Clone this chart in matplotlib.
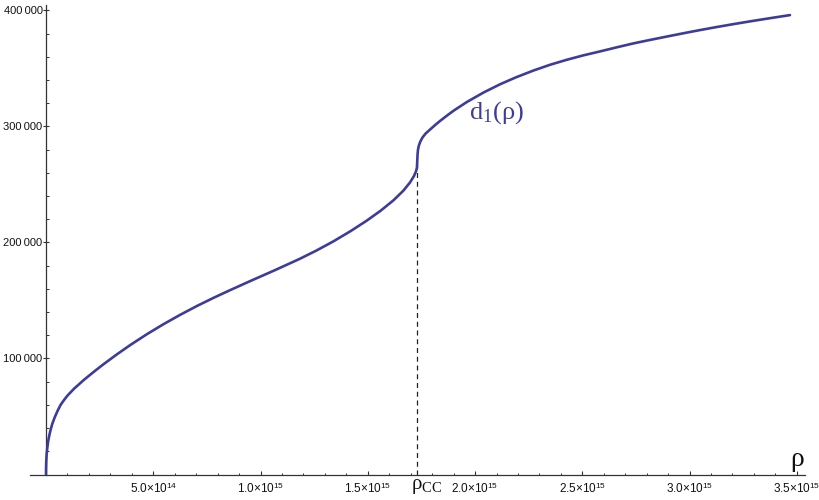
import numpy as np
import matplotlib
matplotlib.use("Agg")
import matplotlib.pyplot as plt
from matplotlib.ticker import FixedLocator

plt.rcParams['mathtext.fontset'] = 'custom'
plt.rcParams['mathtext.rm'] = 'Liberation Serif'
plt.rcParams['mathtext.sf'] = 'Liberation Sans'
plt.rcParams['mathtext.it'] = 'Liberation Serif:italic'

# ---- data (rho in units of 1e15) ----
rho_1e15 = [0, 0.0002, 0.001, 0.003, 0.006, 0.01, 0.014, 0.02, 0.029, 0.04,
            0.053, 0.068, 0.084, 0.1, 0.131, 0.177, 0.224, 0.267, 0.33, 0.392,
            0.47, 0.547, 0.625, 0.703, 0.78, 0.858, 0.96, 1.068, 1.184, 1.26,
            1.339, 1.42, 1.495, 1.56, 1.62, 1.666, 1.697, 1.715, 1.725, 1.729,
            1.73, 1.731, 1.732, 1.734, 1.738, 1.745, 1.755, 1.77, 1.79, 1.81,
            1.837, 1.87, 1.9, 1.961, 2.04, 2.117, 2.19, 2.272, 2.35, 2.428,
            2.505, 2.583, 2.66, 2.738, 2.816, 2.894, 2.97, 3.049, 3.126, 3.204,
            3.282, 3.36, 3.468]
d1_values = [0, 5000, 10500, 17500, 23000, 28500, 32500, 37500, 43500, 49000,
             54500, 60000, 64200, 68000, 74000, 81600, 88700, 94900, 103500, 111500,
             120900, 129500, 137600, 145200, 152200, 158900, 167400, 176200, 186000, 193000,
             200900, 209800, 218800, 227400, 236400, 244700, 251800, 257200, 261400, 264600,
             268000, 272000, 276000, 280000, 283500, 287000, 290500, 294000, 297300, 300600,
             304800, 309500, 313600, 321000, 329300, 336400, 342300, 348200, 353200, 357500,
             361300, 364700, 368200, 371600, 374600, 377500, 380300, 383100, 385700, 388200,
             390600, 392900, 396000]
rho_cc_1e15 = 1.731
d1_at_cc = 270000

x_major = [0.5, 1.0, 1.5, 2.0, 2.5, 3.0, 3.5]
x_major_labels = ['5.0×10$^{\\mathsf{14}}$', '1.0×10$^{\\mathsf{15}}$', '1.5×10$^{\\mathsf{15}}$',
                  '2.0×10$^{\\mathsf{15}}$', '2.5×10$^{\\mathsf{15}}$', '3.0×10$^{\\mathsf{15}}$',
                  '3.5×10$^{\\mathsf{15}}$']
y_major = [100000, 200000, 300000, 400000]
y_major_labels = ['100\u2009000', '200\u2009000', '300\u2009000', '400\u2009000']

rho = np.array(rho_1e15) * 1e15
d1 = np.array(d1_values)

line_color = '#3d3d99'
axis_color = '#333333'

fig = plt.figure(figsize=(8.2, 5.0), dpi=100)
ax = fig.add_axes([30/820, (500-474.5)/500, 775/820, (474.5-5)/500])

ax.plot(rho, d1, color=line_color, lw=1.9, solid_joinstyle='round',
        solid_capstyle='round', zorder=3)
ax.plot([rho_cc_1e15*1e15, rho_cc_1e15*1e15], [0, d1_at_cc], color='#222222',
        lw=0.9, ls=(0, (4, 3)), zorder=2)

ax.set_xlim(-0.0746e15, 3.538e15)
ax.set_ylim(0, 404700)

for s in ['top', 'right']:
    ax.spines[s].set_visible(False)
ax.spines['left'].set_position(('data', 0))
ax.spines['bottom'].set_position(('data', 0))
for s in ['left', 'bottom']:
    ax.spines[s].set_color(axis_color)
    ax.spines[s].set_linewidth(0.9)

ax.xaxis.set_major_locator(FixedLocator([v*1e15 for v in x_major]))
ax.set_xticklabels(x_major_labels)
ax.xaxis.set_minor_locator(FixedLocator([k*0.1e15 for k in range(1, 36) if k % 5 != 0]))
ax.yaxis.set_major_locator(FixedLocator(y_major))
ax.set_yticklabels(y_major_labels)
ax.yaxis.set_minor_locator(FixedLocator([k*20000 for k in range(1, 21) if k % 5 != 0]))

ax.tick_params(axis='x', which='major', direction='in', length=3, width=0.8,
               color=axis_color, pad=5, labelsize=8.5)
ax.tick_params(axis='x', which='minor', direction='in', length=1.8, width=0.7, color=axis_color)
ax.tick_params(axis='y', which='major', direction='inout', length=4, width=0.8,
               color=axis_color, pad=0.5, labelsize=8)
ax.tick_params(axis='y', which='minor', direction='in', length=2, width=0.7, color=axis_color)
for lab in ax.get_xticklabels() + ax.get_yticklabels():
    lab.set_family(['Liberation Sans', 'DejaVu Sans'])
    lab.set_color('#111111')

ax.text(2.098e15, 311600, 'd$_{\\mathrm{1}}$(ρ)', family=['Liberation Serif', 'DejaVu Serif'],
        fontsize=19, color=line_color, ha='center', va='center')
ax.text(1.70e15, -2000, 'ρ$_{\\mathrm{CC}}$', family=['Liberation Serif', 'DejaVu Serif'],
        fontsize=15, color='#111111', ha='left', va='top', clip_on=False)
ax.text(3.50e15, 13000, 'ρ', family=['Liberation Serif', 'DejaVu Serif'],
        fontsize=20, color='#111111', ha='center', va='center')

fig.savefig('out.png', dpi=100)
